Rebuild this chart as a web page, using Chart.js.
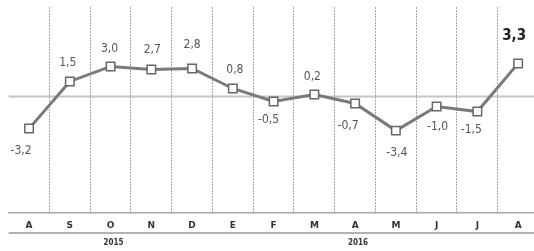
<!DOCTYPE html>
<html>
<head>
  <meta charset="utf-8">
  <script src="https://cdn.jsdelivr.net/npm/chart.js"></script>
  <style>
    body { margin: 0; background: #ffffff; overflow: hidden; }
    .wrap { position: relative; width: 546px; height: 251px; }
  </style>
</head>
<body>
  <div class="wrap">
    <canvas id="chart"></canvas>
  </div>
  <script>
    // donnees du graphique
    var months = ['A', 'S', 'O', 'N', 'D', 'E', 'F', 'M', 'A', 'M', 'J', 'J', 'A'];
    var values = [-3.2, 1.5, 3.0, 2.7, 2.8, 0.8, -0.5, 0.2, -0.7, -3.4, -1.0, -1.5, 3.3];
    var years = ['2015', '2016'];
    var yearIndex = [2, 8];

    // decalage des etiquettes (dx, dy) par point
    var labelOffsets = [
      [-8, 22], [-2, -19], [-1, -18], [1, -20], [0, -24], [2, -19], [-5, 18],
      [-2, -18], [-7, 22], [1, 22], [1, 20], [-6, 18], [-4, -27]
    ];

    var fmt = function (v) { return v.toFixed(1).replace('.', ','); };

    var extras = {
      id: 'extras',
      beforeDatasetsDraw: function (chart) {
        // ligne du zero
        var ctx = chart.ctx;
        var y0 = chart.scales.y.getPixelForValue(0);
        ctx.save();
        ctx.strokeStyle = '#c4c4c4';
        ctx.lineWidth = 2;
        ctx.beginPath();
        ctx.moveTo(chart.chartArea.left, y0);
        ctx.lineTo(chart.chartArea.right, y0);
        ctx.stroke();
        ctx.restore();
      },
      afterDatasetsDraw: function (chart) {
        var ctx = chart.ctx;
        var meta = chart.getDatasetMeta(0);
        ctx.save();
        ctx.textAlign = 'center';
        ctx.textBaseline = 'middle';
        meta.data.forEach(function (pt, i) {
          var last = i === values.length - 1;
          ctx.font = last ? 'bold 15px "DejaVu Sans Condensed", "Liberation Sans Narrow", sans-serif'
                          : '12px "DejaVu Sans Condensed", "Liberation Sans Narrow", sans-serif';
          ctx.fillStyle = last ? '#222' : '#555';
          ctx.fillText(fmt(values[i]), pt.x + labelOffsets[i][0], pt.y + labelOffsets[i][1]);
        });
        ctx.restore();
      },
      afterDraw: function (chart) {
        var ctx = chart.ctx;
        var x = chart.scales.x;
        var area = chart.chartArea;
        ctx.save();
        // ligne sous les mois
        ctx.strokeStyle = '#999';
        ctx.lineWidth = 1.5;
        ctx.beginPath();
        ctx.moveTo(area.left, 233);
        ctx.lineTo(area.right, 233);
        ctx.stroke();
        // annees
        ctx.font = 'bold 8px "DejaVu Sans Condensed", sans-serif';
        ctx.fillStyle = '#333';
        ctx.textAlign = 'center';
        ctx.textBaseline = 'middle';
        years.forEach(function (y, i) {
          ctx.fillText(y, x.getPixelForValue(yearIndex[i]) + 3, 243);
        });
        ctx.restore();
      }
    };

    new Chart(document.getElementById('chart'), {
      type: 'line',
      data: {
        labels: months,
        datasets: [{
          data: values,
          borderColor: '#7a7a7a',
          borderWidth: 3,
          pointStyle: 'rect',
          pointRadius: 6,
          pointBorderWidth: 1.5,
          pointBorderColor: '#666',
          pointBackgroundColor: '#ffffff',
          tension: 0
        }]
      },
      options: {
        responsive: true,
        maintainAspectRatio: false,
        animation: false,
        layout: { padding: { left: 8.7, right: 0, top: 5, bottom: 13 } },
        plugins: { legend: { display: false }, tooltip: { enabled: false } },
        scales: {
          x: {
            offset: true,
            grid: {
              offset: true,
              drawTicks: false,
              lineWidth: 1,
              color: function (c) { return c.index === 0 ? 'transparent' : '#4a4a4a'; }
            },
            border: { display: true, color: '#a8a8a8', width: 1.5, dash: [1, 2] },
            ticks: {
              padding: 7,
              color: '#333',
              font: { family: 'DejaVu Sans', size: 9, weight: 'bold' }
            }
          },
          y: {
            display: false,
            min: -11.63,
            max: 8.87
          }
        }
      },
      plugins: [extras]
    });
  </script>
</body>
</html>
